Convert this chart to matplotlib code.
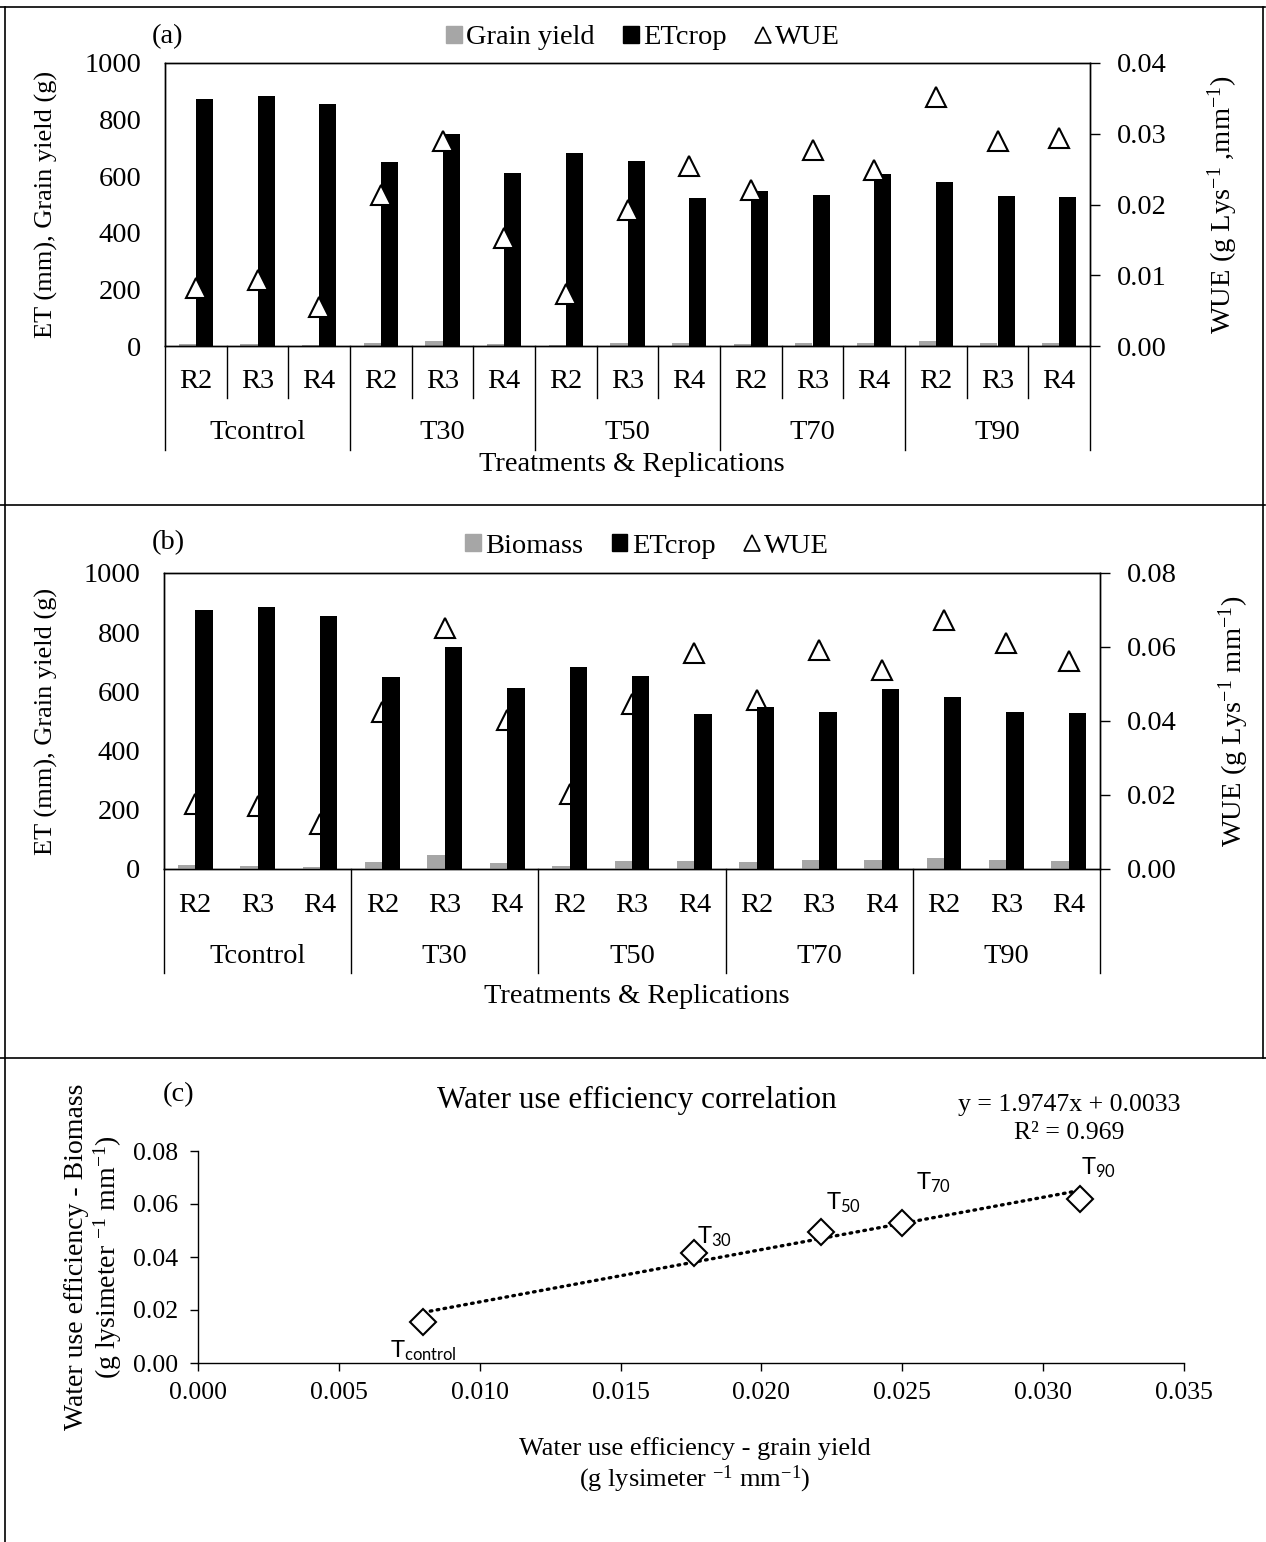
import numpy as np
import matplotlib
matplotlib.use('Agg')
import matplotlib.pyplot as plt
from matplotlib.lines import Line2D
from matplotlib.patches import Patch
import matplotlib.transforms as mtransforms

plt.rcParams['font.family'] = ['Liberation Serif', 'DejaVu Serif']
plt.rcParams['mathtext.fontset'] = 'custom'
plt.rcParams['mathtext.rm'] = 'Liberation Serif'
plt.rcParams['mathtext.it'] = 'Liberation Serif:italic'
plt.rcParams['axes.linewidth'] = 1.0

# data
treatments = ['Tcontrol', 'T30', 'T50', 'T70', 'T90']
reps = ['R2', 'R3', 'R4']
etcrop = [874, 884, 855, 650, 749, 611, 683, 653, 522, 546, 532, 608, 580, 531, 526]
grain_yield = [6, 6, 3, 10, 19, 8, 4, 9, 10, 8, 12, 12, 18, 12, 12]
wue_grain = [0.0082, 0.0093, 0.0055, 0.0213, 0.0290, 0.0153, 0.0074, 0.0192,
             0.0254, 0.0220, 0.0277, 0.0249, 0.0352, 0.0290, 0.0294]
biomass = [13, 11, 7, 25, 47, 20, 11, 26, 28, 22, 29, 32, 37, 29, 27]
wue_biomass = [0.0175, 0.0171, 0.0121, 0.0424, 0.0652, 0.0402, 0.0203, 0.0447,
               0.0584, 0.0458, 0.0592, 0.0538, 0.0673, 0.0612, 0.0561]

# panel (c) treatment means
corr_labels = ['control', '30', '50', '70', '90']
corr_x = [0.0080, 0.0176, 0.0221, 0.0250, 0.0313]
corr_y = [0.0156, 0.0414, 0.0495, 0.0530, 0.0617]
slope, intercept, r2 = 1.9747, 0.0033, 0.969

GRAY = '#a6a6a6'
FS = 20.5      # panels a/b text
FSY = 19       # left y labels
FSC = 18.5     # panel c ticks

fig = plt.figure(figsize=(12.66, 15.42), dpi=100)

n = len(etcrop)
x = np.arange(n)
bw = 0.28


def bar_panel(rect, sec_vals, wue, ylim2, yticks2, rlabel, rlab_x, wue_front,
              rep_seps, ylab_pos, grp_y, grp_depth, axlab_y):
    ax = fig.add_axes(rect)
    ax2 = ax.twinx()
    ax.bar(x - bw / 2, sec_vals, bw, color=GRAY, zorder=2)
    ax.bar(x + bw / 2, etcrop, bw, color='black', zorder=2)
    ax2.plot(x, wue, ls='none', marker='^', ms=15, mfc='white', mec='black', mew=1.5,
             clip_on=False)
    if not wue_front:
        ax.set_zorder(ax2.get_zorder() + 1)
        ax.patch.set_visible(False)
    ax.set_xlim(-0.5, n - 0.5)
    ax.set_ylim(0, 1000)
    ax.set_yticks(range(0, 1001, 200))
    ax.tick_params(axis='y', length=0, pad=17, labelsize=FS)
    ax.set_xticks([])
    ax2.set_ylim(*ylim2)
    ax2.set_yticks(yticks2)
    ax2.set_yticklabels(['%.2f' % v for v in yticks2])
    ax2.tick_params(axis='y', length=7, width=1.0, direction='out', pad=12, labelsize=FS)
    ax.set_ylabel('ET (mm), Grain yield (g)', fontsize=FSY)
    ax.yaxis.set_label_coords(ylab_pos, 0.5)
    ax2.set_ylabel(rlabel, fontsize=FS)
    ax2.yaxis.set_label_coords(rlab_x, 0.5)

    trans = mtransforms.blended_transform_factory(ax.transData, ax.transAxes)
    for i in range(n + 1):
        b = i - 0.5
        if i % 3 == 0:
            ax.plot([b, b], [0, grp_depth], color='black', lw=1.0, transform=trans, clip_on=False)
        elif rep_seps is not None:
            ax.plot([b, b], [0, rep_seps], color='black', lw=1.0, transform=trans, clip_on=False)
    for i in range(n):
        ax.text(i, grp_y[0], reps[i % 3], transform=trans, ha='center', va='center', fontsize=FS)
    for g, t in enumerate(treatments):
        ax.text(g * 3 + 1, grp_y[1], t, transform=trans, ha='center', va='center', fontsize=FS)
    ax.text(0.505, axlab_y, 'Treatments & Replications', transform=ax.transAxes,
            ha='center', va='center', fontsize=FS)
    return ax, ax2


# panel (a)
bar_panel([165 / 1266, 1 - 346 / 1542, 925 / 1266, 283 / 1542], grain_yield,
          wue_grain, (0, 0.04), [0, 0.01, 0.02, 0.03, 0.04],
          r'WUE (g Lys$^{\mathregular{-1}}$ ,mm$^{\mathregular{-1}}$)', 1.125, True,
          -0.184, -0.116, (-0.127, -0.307), -0.367, -0.42)

# panel (b)
bar_panel([164 / 1266, 1 - 869 / 1542, 936 / 1266, 296 / 1542], biomass,
          wue_biomass, (0, 0.08), [0, 0.02, 0.04, 0.06, 0.08],
          r'WUE (g Lys$^{\mathregular{-1}}$ mm$^{\mathregular{-1}}$)', 1.124, False,
          None, -0.113, (-0.125, -0.297), -0.351, -0.432)


def top_legend(first, xc, yc):
    handles = [Patch(color=GRAY), Patch(color='black'),
               Line2D([], [], ls='none', marker='^', ms=11, mfc='white', mec='black', mew=1.2)]
    fig.legend(handles, [first, 'ETcrop', 'WUE'], loc='center', bbox_to_anchor=(xc, yc),
               ncol=3, frameon=False, fontsize=FS, handlelength=0.55, handleheight=0.55,
               handletextpad=0.15, columnspacing=1.0, borderpad=0)


top_legend('Grain yield', 0.508, 1 - 38 / 1542)
top_legend('Biomass', 0.511, 1 - 546 / 1542)

fig.text(152 / 1266, 1 - 37 / 1542, '(a)', ha='left', va='center', fontsize=FS)
fig.text(152 / 1266, 1 - 543 / 1542, '(b)', ha='left', va='center', fontsize=FS)

# panel (c)
axc = fig.add_axes([198 / 1266, 1 - 1363 / 1542, 986 / 1266, 212 / 1542])
xs = np.array([corr_x[0], corr_x[-1]])
axc.plot(xs, slope * xs + intercept, color='black', lw=2.4, ls=(0, (0.5, 1.6)),
         dash_capstyle='round', zorder=2)
axc.plot(corr_x, corr_y, ls='none', marker='D', ms=13, mfc='white', mec='black', mew=1.5,
         zorder=3)
axc.set_xlim(0, 0.035)
axc.set_ylim(0, 0.08)
xt = np.arange(0, 0.0351, 0.005)
axc.set_xticks(xt)
axc.set_xticklabels(['%.3f' % v for v in xt])
yt = np.arange(0, 0.081, 0.02)
axc.set_yticks(yt)
axc.set_yticklabels(['%.2f' % v for v in yt])
axc.tick_params(length=6, width=1.0, direction='out', labelsize=FSC, pad=8)
axc.spines['top'].set_visible(False)
axc.spines['right'].set_visible(False)
axc.set_xlabel('Water use efficiency - grain yield\n'
               r'(g lysimeter $^{\mathregular{-1}}$ mm$^{\mathregular{-1}}$)', fontsize=19,
               linespacing=1.15)
axc.xaxis.set_label_coords(0.504, -0.35)
axc.set_ylabel('Water use efficiency - Biomass\n'
               r'(g lysimeter $^{\mathregular{-1}}$ mm$^{\mathregular{-1}}$)', fontsize=20,
               linespacing=1.1)
axc.yaxis.set_label_coords(-0.075, 0.5)

offsets = [(0, -21), (2, 12), (4, 21), (10, 29), (1, 23)]
for lab, px, py, off in zip(corr_labels, corr_x, corr_y, offsets):
    ha = 'center' if lab == 'control' else 'left'
    axc.annotate(r'$\mathregular{T_{%s}}$' % lab, (px, py), xytext=off, textcoords='offset points',
                 ha=ha, va='center', fontsize=17, family='Lato')

fig.text(0.503, 1 - 1100 / 1542, 'Water use efficiency correlation', ha='center', va='center',
         fontsize=22.5)
fig.text(1069 / 1266, 1 - 1105 / 1542, 'y = %.4fx + %.4f' % (slope, intercept), ha='center',
         va='center', fontsize=FSC)
fig.text(1069 / 1266, 1 - 1133 / 1542, 'R² = %.3f' % r2, ha='center', va='center', fontsize=FSC)
fig.text(163 / 1266, 1 - 1095 / 1542, '(c)', ha='left', va='center', fontsize=FS)

# panel frames
W, H = 1266.0, 1542.0


def fline(x0, y0, x1, y1):
    fig.add_artist(Line2D([x0 / W, x1 / W], [1 - y0 / H, 1 - y1 / H], color='black', lw=1.2))


fline(0, 7, 1265, 7)
fline(0, 505, 1265, 505)
fline(0, 1058, 1266, 1058)
fline(5, 7, 5, 1542)
fline(1263, 7, 1263, 1058)

fig.savefig('out.png', dpi=100)
